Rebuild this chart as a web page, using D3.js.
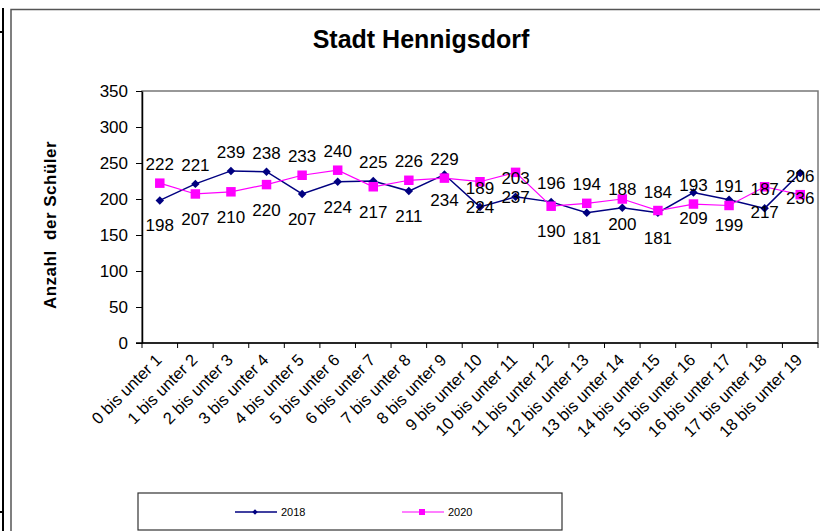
<!DOCTYPE html>
<html>
<head>
<meta charset="utf-8">
<script src="https://cdnjs.cloudflare.com/ajax/libs/d3/7.8.5/d3.min.js"></script>
<style>
    body { margin: 0; background: #fff; }
    text { font-family: Arial, "Liberation Sans", sans-serif; fill: #000; }
</style>
</head>
<body>
<script>
var categories = ["0 bis unter 1", "1 bis unter 2", "2 bis unter 3", "3 bis unter 4", "4 bis unter 5",
    "5 bis unter 6", "6 bis unter 7", "7 bis unter 8", "8 bis unter 9", "9 bis unter 10",
    "10 bis unter 11", "11 bis unter 12", "12 bis unter 13", "13 bis unter 14", "14 bis unter 15",
    "15 bis unter 16", "16 bis unter 17", "17 bis unter 18", "18 bis unter 19"];
var values2018 = [198, 221, 239, 238, 207, 224, 225, 211, 234, 189, 203, 196, 181, 188, 181, 209, 199, 187, 236];
var values2020 = [222, 207, 210, 220, 233, 240, 217, 226, 229, 224, 237, 190, 194, 200, 184, 193, 191, 217, 206];
var yTicks = [0, 50, 100, 150, 200, 250, 300, 350];
// series whose data label sits above its point (the other one goes below)
var labelTop = ["2020", "2018", "2018", "2018", "2020", "2020", "2018", "2020", "2020", "2018",
    "2018", "2018", "2020", "2018", "2020", "2020", "2020", "2018", "2020"];

var series = [
    { name: "2018", values: values2018, color: "#000080", size: 36, rot: 45, width: 1.5 },
    { name: "2020", values: values2020, color: "#ff00ff", size: 90, rot: 0, width: 1.2 }
];

var svg = d3.select("body").append("svg")
    .attr("width", 820)
    .attr("height", 531);

// outer frame lines
svg.append("line").attr("x1", 3).attr("x2", 3).attr("y1", 8).attr("y2", 531)
    .attr("stroke", "#000").attr("stroke-width", 2);
svg.append("line").attr("x1", 0).attr("x2", 3).attr("y1", 32).attr("y2", 32)
    .attr("stroke", "#000").attr("stroke-width", 2);
svg.append("line").attr("x1", 0).attr("x2", 3).attr("y1", 512).attr("y2", 512)
    .attr("stroke", "#000").attr("stroke-width", 2);
svg.append("path").attr("d", "M11,531V9.5H820")
    .attr("fill", "none").attr("stroke", "#555").attr("stroke-width", 1.5);

var x = d3.scaleBand()
    .domain(categories)
    .range([142, 818]);

var y = d3.scaleLinear()
    .domain([0, 350])
    .range([343, 91]);

// plot area border
svg.append("rect")
    .attr("x", 142).attr("y", 91)
    .attr("width", 818 - 142).attr("height", 343 - 91)
    .attr("fill", "none")
    .attr("stroke", "#777")
    .attr("stroke-width", 1.5);

// title
svg.append("text")
    .attr("x", 421)
    .attr("y", 48)
    .attr("text-anchor", "middle")
    .attr("font-size", 25)
    .attr("font-weight", "bold")
    .text("Stadt Hennigsdorf");

// y axis
var yAxis = svg.append("g")
    .attr("transform", "translate(142,0)")
    .call(d3.axisLeft(y).tickValues(yTicks).tickSize(6).tickSizeOuter(0).tickPadding(8));
yAxis.select(".domain").attr("stroke", "#000").attr("stroke-width", 1.5);
yAxis.selectAll(".tick line").attr("stroke", "#000");
yAxis.selectAll(".tick text")
    .attr("font-size", 17)
    .attr("font-family", "Arial, 'Liberation Sans', sans-serif");

svg.append("text")
    .attr("transform", "translate(56,225) rotate(-90)")
    .attr("text-anchor", "middle")
    .attr("font-size", 17)
    .attr("letter-spacing", 0.5)
    .attr("font-weight", "bold")
    .attr("xml:space", "preserve")
    .text("Anzahl  der Schüler");

// x axis
svg.append("line")
    .attr("x1", 136).attr("x2", 818)
    .attr("y1", y(0)).attr("y2", y(0))
    .attr("stroke", "#000").attr("stroke-width", 1.5);

var bounds = categories.map(function(c) { return x(c); }).concat([x.range()[1]]);
svg.selectAll(".xtick")
    .data(bounds)
    .enter()
    .append("line")
    .attr("class", "xtick")
    .attr("x1", function(d) { return d; })
    .attr("x2", function(d) { return d; })
    .attr("y1", y(0))
    .attr("y2", y(0) + 5)
    .attr("stroke", "#000");

svg.selectAll(".xlabel")
    .data(categories)
    .enter()
    .append("text")
    .attr("class", "xlabel")
    .attr("text-anchor", "end")
    .attr("font-size", 16.5)
    .attr("transform", function(d) {
        var cx = x(d) + x.bandwidth() / 2 + 3;
        return "translate(" + cx + "," + (y(0) + 18) + ") rotate(-45)";
    })
    .text(function(d) { return d; });

// lines and markers
var line = d3.line()
    .x(function(d, i) { return x(categories[i]) + x.bandwidth() / 2; })
    .y(function(d) { return y(d); });

series.forEach(function(s) {
    svg.append("path")
        .datum(s.values)
        .attr("fill", "none")
        .attr("stroke", s.color)
        .attr("stroke-width", s.width)
        .attr("d", line);
});

series.forEach(function(s) {
    svg.selectAll(".m" + s.name)
        .data(s.values)
        .enter()
        .append("path")
        .attr("class", "m" + s.name)
        .attr("d", d3.symbol().type(d3.symbolSquare).size(s.size))
        .attr("fill", s.color)
        .attr("transform", function(d, i) {
            return "translate(" + (x(categories[i]) + x.bandwidth() / 2) + "," + y(d) + ") rotate(" + s.rot + ")";
        });
});

// data labels
series.forEach(function(s) {
    svg.selectAll(".l" + s.name)
        .data(s.values)
        .enter()
        .append("text")
        .attr("class", "l" + s.name)
        .attr("text-anchor", "middle")
        .attr("font-size", 17)
        .attr("x", function(d, i) { return x(categories[i]) + x.bandwidth() / 2; })
        .attr("y", function(d, i) {
            if (labelTop[i] === s.name) {
                return y(d) - 13;
            } else {
                return y(d) + 31;
            }
        })
        .text(function(d) { return d; });
});

// legend
var legend = svg.append("g");
legend.append("rect")
    .attr("x", 138).attr("y", 493)
    .attr("width", 562 - 138).attr("height", 37)
    .attr("fill", "none")
    .attr("stroke", "#333")
    .attr("stroke-width", 1.2);

var legendX = [235, 402];
series.forEach(function(s, i) {
    var lx = legendX[i];
    legend.append("line")
        .attr("x1", lx).attr("x2", lx + 42)
        .attr("y1", 512).attr("y2", 512)
        .attr("stroke", s.color).attr("stroke-width", s.width);
    legend.append("path")
        .attr("d", d3.symbol().type(d3.symbolSquare).size(s.size / 2.5))
        .attr("fill", s.color)
        .attr("transform", "translate(" + (lx + 20) + ",512) rotate(" + s.rot + ")");
    legend.append("text")
        .attr("x", lx + 46)
        .attr("y", 516)
        .attr("font-size", 11)
        .text(s.name);
});
</script>
</body>
</html>
